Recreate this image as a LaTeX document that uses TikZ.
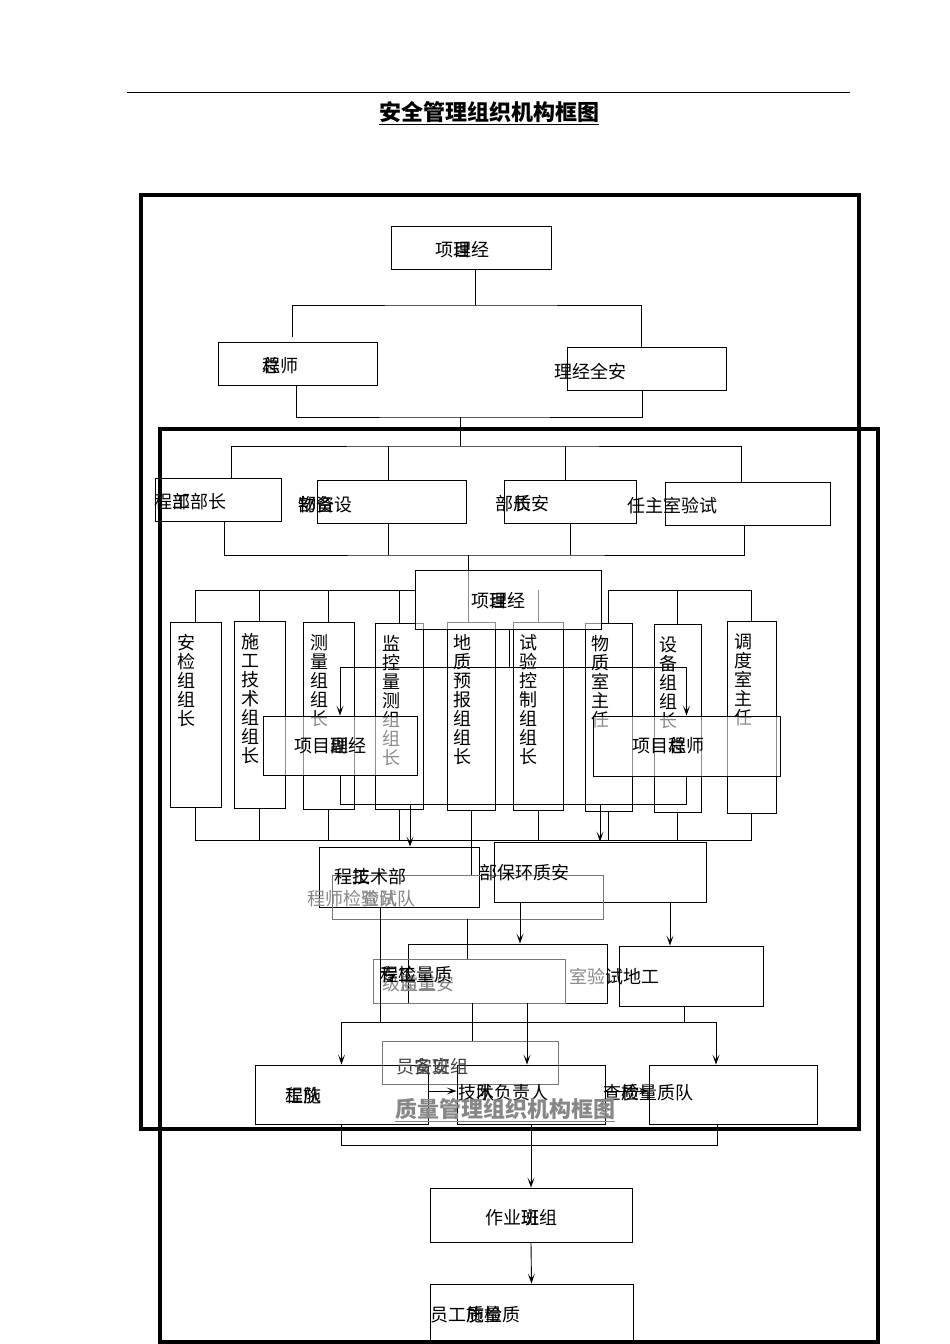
\documentclass[tikz,border=0pt]{standalone}
\usepackage{fontspec}
\setmainfont{Noto Sans CJK SC}
\usetikzlibrary{fit,calc,arrows.meta}
\definecolor{fadegray}{RGB}{135,135,135}
\definecolor{linegray}{RGB}{120,120,120}

\begin{document}
\begin{tikzpicture}[x=1pt,y=-1pt,
    box/.style={draw,line width=0.9pt,inner sep=0pt},
    ghost/.style={draw,line width=0.9pt,inner sep=0pt,fill=white,fill opacity=0.55,text opacity=1},
    lbl/.style={inner sep=0pt,font=\fontsize{18}{19}\selectfont},
    vlbl/.style={lbl,align=center,anchor=north},
    conn/.style={line width=0.9pt},
    arr/.style={conn,-{Stealth[length=10pt,width=7pt,inset=5pt]}},
    frame/.style={line width=4pt}]
  \useasboundingbox (0,0) rectangle (950,1344);

  % heading
  \draw[line width=1pt] (127,92) -- (850,92);
  \node[font=\fontsize{22}{24}\selectfont\bfseries] (title) at (489,113) {\underline{安全管理组织机构框图}};

  % outer frames
  \draw[frame] (141,195) rectangle (859,1129);
  \draw[frame] (160,429) rectangle (878,1342);

  % safety chart, top levels
  \node[box,fit={(391,226)(551,269)}] (pm1) {};
  \node[lbl] (pm1t) at (462,250) {项\rlap{目}理经};
  \node[box,fit={(218,342)(377,385)}] (cg) {};
  \node[lbl] (cgt) at (280,366) {\rlap{总}程师};
  \node[box,fit={(567,347)(726,390)}] (sm) {};
  \node[lbl] (smt) at (590,372) {理经全安};

  \coordinate (b1) at (475,305);
  \coordinate (b2) at (460,417);
  \coordinate (b3) at (460,446);
  \draw[conn] (pm1.south -| b1) -- (b1);
  \draw[conn] ($(cg.north)+(-5.5,-5)$) |- (b1) -| ($(sm.north)+(-5,0)$);
  \draw[conn] ($(cg.south)+(-1,0)$) |- (b2) -| ($(sm.south)+(-4,0)$);
  \draw[conn] (b2) -- (b3);

  % departments
  \node[box,fit={(155,478)(281,521)}] (d1) {};
  \node[box,fit={(317,480)(466,523)}] (d2) {};
  \node[box,fit={(504,480)(636,523)}] (d3) {};
  \node[box,fit={(665,482)(830,525)}] (d4) {};
  \node[lbl] (d1t) at (190,502) {程\rlap{工}部部长};
  \node[lbl] (d2t) at (325,505) {\rlap{物}部\rlap{资}备设};
  \node[lbl] (d3t) at (522,504) {部\rlap{长}质安};
  \node[lbl] (d4t) at (672,506) {任主室验试};

  \coordinate (b4) at (468,555);
  \draw[conn] ($(d1.north)+(13,0)$) |- (b3) -| ($(d4.north)+(-6.5,0)$);
  \foreach \n/\dx in {d2/-3.5,d3/-5}
    \draw[conn] ($(\n.north)+(\dx,0)$) -- ($(\n.north |- b3)+(\dx,0)$);
  \draw[conn] ($(d1.south)+(6,0)$) |- (b4) -| ($(d4.south)+(-3.5,0)$);
  \foreach \n/\dx in {d2/-3.5,d3/0}
    \draw[conn] ($(\n.south)+(\dx,0)$) -- ($(\n.south |- b4)+(\dx,0)$);

  % group leaders
  \foreach \n/\xa/\xb/\ya/\yb in {c1/170/221/622/807,c2/234/285/621/808,c3/303/354/622/809,
      c4/375/423/623/809,c5/447/495/622/810,c6/513/563/622/810,c7/585/632/623/811,
      c8/654/701/624/812,c9/727/776/621/813}
    \node[box,fit={(\xa,\ya)(\xb,\yb)}] (\n) {};
  \node[vlbl] (c1t) at ($(c1.north)+(-9,13)$) {安\\检\\组\\组\\长};
  \node[vlbl] (c2t) at ($(c2.north)+(-9,13)$) {施\\工\\技\\术\\组\\组\\长};
  \node[vlbl] (c3t) at ($(c3.north)+(-9,13)$) {测\\量\\组\\组\\长};
  \node[vlbl] (c4t) at ($(c4.north)+(-8,13)$) {监\\控\\量\\测\\组\\组\\长};
  \node[vlbl] (c5t) at ($(c5.north)+(-9,13)$) {地\\质\\预\\报\\组\\组\\长};
  \node[vlbl] (c6t) at ($(c6.north)+(-10,13)$) {试\\验\\控\\制\\组\\组\\长};
  \node[vlbl] (c7t) at ($(c7.north)+(-8,13)$) {物\\质\\室\\主\\任};
  \node[vlbl] (c8t) at ($(c8.north)+(-9,13)$) {设\\备\\组\\组\\长};
  \node[vlbl] (c9t) at ($(c9.north)+(-8,13)$) {调\\度\\室\\主\\任};

  \coordinate (b5) at (468,590);
  \draw[conn] (b4) -- (b4 |- c5.north);
  \draw[conn] (c6.north) -- (c6.north |- b5);

  % second manager box lies over the columns
  \node[ghost,fit={(415,570)(601,629)}] (pm2) {};
  \node[lbl] (pm2t) at (498,601) {项\rlap{目}理经};
  \draw[conn] (c1.north) |- (b5 -| pm2.west);
  \draw[conn] (c9.north) |- (b5 -| c7.north);
  \foreach \n in {c2,c3,c4,c7,c8}
    \draw[conn] (\n.north) -- (\n.north |- b5);

  \coordinate (b8) at (468,840);
  \draw[conn] (c1.south) |- (b8) -| (c9.south);
  \foreach \n in {c2,c3,c4,c6,c7,c8}
    \draw[conn] (\n.south) -- (\n.south |- b8);

  % quality chart
  \coordinate (b6) at (509,667);
  \coordinate (b7) at (500,804);
  \draw[conn] (pm2.south -| b6) -- (b6);
  \node[ghost,fit={(263,716)(417,775)}] (qa) {};
  \node[ghost,fit={(593,716)(780,776)}] (qb) {};
  \node[lbl] (qat) at (330,746) {项目\rlap{副}理经};
  \node[lbl] (qbt) at (668,746) {项目\rlap{总}程师};
  \draw[arr] (b6) -| (qa.north);
  \draw[arr] (b6) -| (qb.north);
  \draw[conn] (qa.south) |- (b7) -| (qb.south);

  \node[box,fit={(319,847)(479,907)}] (qt) {};
  \node[box,fit={(494,842)(706,902)}] (qs) {};
  \node[box,draw=linegray,fit={(332,875)(603,919)}] (sg1) {};
  \node[box,fit={(408,944)(607,1003)}] (qe) {};
  \node[box,draw=linegray,fit={(373,959)(565,1003)}] (sg2) {};
  \node[box,fit={(619,946)(763,1006)}] (ql) {};
  \node[lbl] (qtt) at (370,877) {程\rlap{工}技术部};
  \node[lbl] (qst) at (524,873) {部保环质安};
  \node[lbl,text=fadegray] (sg1t) at (361,899) {程师检\rlap{验}查\rlap{试}队队};
  \node[lbl,text=fadegray] (sg2t) at (418,984) {级\rlap{监}质\rlap{工}量安};
  \node[lbl] (qet) at (416,975) {\rlap{专}程\rlap{工}检量质};
  \node[lbl] (qlt) at (614,977) {\textcolor{fadegray}{室验}试地工};

  \coordinate (qtin) at ($(qt.north)+(11,0)$);
  \draw[arr] (qtin |- b7) -- (qtin);
  \draw[arr] (qs.north |- b7) -- (qs.north);
  \draw[conn] (c5.south) -- (c5.south |- sg1.north);
  \draw[conn] (sg1.south) -- (sg1.south |- sg2.north);

  \node[box,draw=linegray,fit={(382,1041)(558,1084)}] (sa) {};
  \node[box,fit={(255,1065)(428,1124)}] (qd1) {};
  \node[box,fit={(457,1065)(605,1124)}] (qd2) {};
  \node[box,fit={(649,1065)(817,1124)}] (qd3) {};
  \node[lbl,text=black!75] (sat) at (432,1067) {员\rlap{安}备\rlap{班}安组};
  \node[lbl] (qd1t) at (303,1096) {\rlap{工}程\rlap{施}队};
  \node[lbl] (qd2t) at (503,1093) {技\rlap{术}队负责人};
  \node[lbl] (qd3t) at (648,1093) {查\rlap{质}检量质队};

  \coordinate (b9) at (527,1022);
  \coordinate (b10) at (530,1145);
  \coordinate (qtout) at ($(qt.south)+(-19,0)$);
  \draw[conn] (qtout) -- (qtout |- b9);
  \coordinate (qsa) at ($(qs.south)+(-80,0)$);
  \draw[arr] (qsa) -- (qsa |- qe.north);
  \coordinate (qsb) at ($(qs.south)+(70,0)$);
  \draw[arr] (qsb) -- (qsb |- ql.north);
  \coordinate (qea) at ($(qe.south)+(-35.5,0)$);
  \draw[conn] (qea) -- (qea |- sa.north);
  \coordinate (qeb) at ($(qe.south)+(19.5,0)$);
  \draw[arr] (qeb) -- (qeb |- qd2.north);
  \coordinate (qlo) at ($(ql.south)+(-7,0)$);
  \draw[conn] (qlo) -- (qlo |- b9);
  \coordinate (qd3in) at ($(qd3.north)+(-17,0)$);
  \draw[conn] (qd1.north |- b9) -- (qd3in |- b9);
  \draw[arr] (qd1.north |- b9) -- (qd1.north);
  \draw[arr] (qd3in |- b9) -- (qd3in);
  \draw[arr] ($(qd1.east)+(0,-3.5)$) -- ($(qd2.west)+(0,-3.5)$);
  \draw[arr] ($(qd2.east)+(0,-3.5)$) -- ($(qd3.west)+(0,-3.5)$);

  \node[font=\fontsize{22}{24}\selectfont\bfseries,text=fadegray] (title2) at (505,1110) {\underline{质量管理组织机构框图}};

  \draw[conn] (qd1.south) |- (b10) -| ($(qd3.south)+(-16,0)$);
  \node[box,fit={(430,1188)(632,1242)}] (qw) {};
  \node[box,fit={(430,1284)(633,1342)}] (qp) {};
  \node[lbl] (qwt) at (521,1218) {作业\rlap{斑}班组};
  \node[lbl] (qpt) at (475,1315) {员工\rlap{质}施\rlap{检}量质};
  \draw[arr] (qd2.south) -- (qw.north);
  \draw[arr] (qw.south) -- (qp.north);
\end{tikzpicture}
\end{document}
